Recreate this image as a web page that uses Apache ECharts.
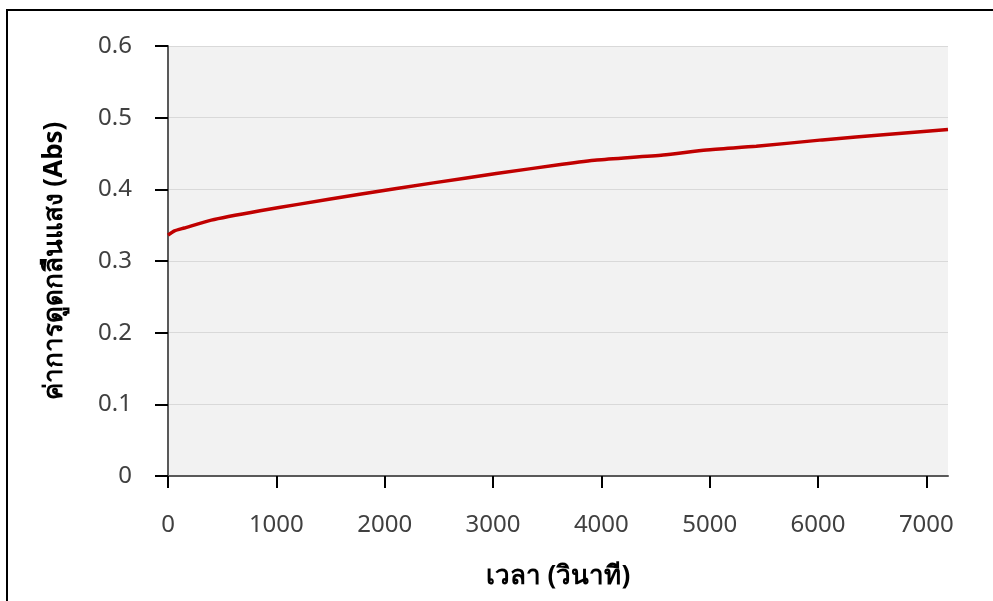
<!DOCTYPE html>
<html>
<head>
<meta charset="utf-8">
<script src="https://cdn.jsdelivr.net/npm/echarts@6/dist/echarts.min.js"></script>
<style>
html,body{margin:0;padding:0;background:#fff;overflow:hidden;}
#chart{position:absolute;left:0;top:0;width:993px;height:601px;}
#frame{position:absolute;left:6px;top:9px;width:1000px;height:620px;border:2px solid #000;box-sizing:border-box;pointer-events:none;}
</style>
</head>
<body>
<div id="chart"></div>
<div id="frame"></div>
<script>
// time (s)
const timeValues = [0, 60, 150, 400, 850, 1200, 1770, 2450, 3030, 3640, 3960, 4570, 4970, 5430, 6040, 6660, 7200];
// absorbance (Abs)
const absValues = [0.336, 0.342, 0.346, 0.357, 0.370, 0.379, 0.393, 0.409, 0.422, 0.435, 0.441, 0.448, 0.455, 0.460, 0.469, 0.477, 0.4835];
const xTickValues = [0, 1000, 2000, 3000, 4000, 5000, 6000, 7000];
const yTickValues = [0, 0.1, 0.2, 0.3, 0.4, 0.5, 0.6];
const xAxisTitle = 'เวลา (วินาที)';
const yAxisTitle = 'ค่าการดูดกลืนแสง (Abs)';

const seriesData = timeValues.map((t, i) => [t, absValues[i]]);
const font = '"Noto Sans", "Open Sans", sans-serif';

const chart = echarts.init(document.getElementById('chart'), null, {renderer: 'canvas'});
chart.setOption({
  animation: false,
  backgroundColor: '#ffffff',
  grid: {left: 168, top: 46, width: 780, height: 430, backgroundColor: '#f2f2f2', show: true, borderWidth: 0},
  xAxis: {
    type: 'value', min: 0, max: 7200, interval: 1000,
    name: xAxisTitle, nameLocation: 'middle', nameGap: 88,
    nameTextStyle: {fontFamily: font, fontSize: 26, fontWeight: 'bold', color: '#000'},
    axisLine: {show: true, lineStyle: {color: '#595959', width: 2}},
    axisTick: {show: true, inside: false, length: 12, customValues: xTickValues, lineStyle: {color: '#000', width: 2}},
    axisLabel: {margin: 37, fontFamily: font, fontSize: 24, color: '#404040', customValues: xTickValues,
      formatter: v => String(v)},
    splitLine: {show: false}
  },
  yAxis: {
    type: 'value', min: 0, max: 0.6, interval: 0.1,
    name: yAxisTitle, nameLocation: 'middle', nameGap: 100, nameRotate: 90,
    nameTextStyle: {fontFamily: font, fontSize: 26, fontWeight: 'bold', color: '#000'},
    axisLine: {show: true, lineStyle: {color: '#595959', width: 2}},
    axisTick: {show: true, inside: false, length: 13, customValues: yTickValues, lineStyle: {color: '#000', width: 2}},
    axisLabel: {margin: 36, fontFamily: font, fontSize: 24, color: '#404040', customValues: yTickValues,
      formatter: v => (Math.round(v * 10) === 0 ? '0' : (Math.round(v * 10) / 10).toFixed(1))},
    splitLine: {show: true, lineStyle: {color: '#d9d9d9', width: 1}}
  },
  series: [{
    type: 'line',
    data: seriesData,
    showSymbol: false,
    smooth: 0.2,
    lineStyle: {color: '#c00000', width: 3.5},
    clip: true
  }]
});
</script>
</body>
</html>
